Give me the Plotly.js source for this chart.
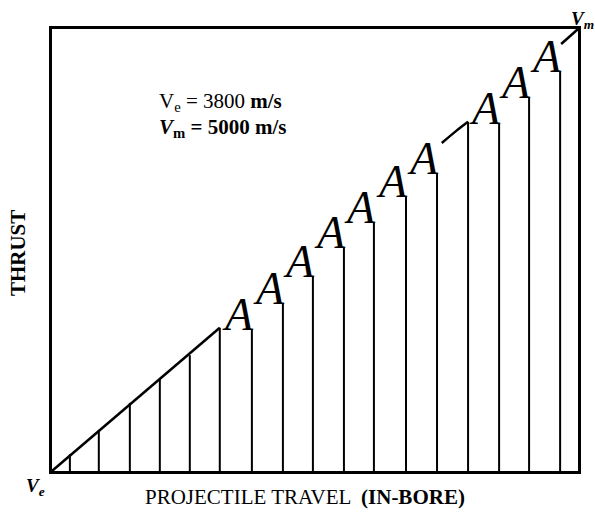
<!DOCTYPE html>
<html>
<head>
<meta charset="utf-8">
<script src="https://cdn.plot.ly/plotly-3.0.1.min.js"></script>
<style>html,body{margin:0;padding:0;background:#fff;}#chart{width:595px;height:513px;}</style>
</head>
<body>
<div id="chart"></div>
<script>
// Stations along the bore (travel, % of bore) and thrust at each station (% of max)
const stationTravel = [3.4, 8.9, 14.8, 20.5, 26.2, 31.9, 38.0, 43.9, 49.6, 55.5, 61.2, 67.3, 73.2, 79.1, 85.0, 90.7, 96.6];
const stationThrust = [3.8, 9.3, 15.4, 20.8, 26.2, 32.4, 32.1, 38.0, 44.1, 50.5, 56.3, 62.0, 67.4, 79.0, 78.7, 84.6, 90.3];
const stationMarks  = ["", "", "", "", "", "", "A", "A", "A", "A", "A", "A", "A", "", "A", "A", "A"];

// Continuous thrust envelope pieces
const rampTravel  = [0, 31.9];
const rampThrust  = [0, 32.4];
const bendTravel  = [74.1, 76.8, 79.1];
const bendThrust  = [74.2, 76.9, 79.0];
const exitTravel  = [96.8, 100];
const exitThrust  = [96.6, 100];

const labelVe = "V<sub>e</sub> = 3800 <b>m/s</b>";
const labelVm = "<b><i>V</i></b><sub><b>m</b></sub><b> = 5000 m/s</b>";
const xTitle = "PROJECTILE TRAVEL  <b>(IN-BORE)</b>";
const yTitle = "<b>THRUST</b>";

const SERIF = "Liberation Serif, Times New Roman, serif";

// vertical station lines
const vx = [], vy = [];
stationTravel.forEach((t, i) => { vx.push(t, t, null); vy.push(0, stationThrust[i], null); });

const traces = [
  {x: vx, y: vy, mode: "lines", line: {color: "#000", width: 2}, hoverinfo: "skip", showlegend: false},
  {x: rampTravel, y: rampThrust, mode: "lines", line: {color: "#000", width: 2.5}, showlegend: false},
  {x: bendTravel, y: bendThrust, mode: "lines", line: {color: "#000", width: 2.5, shape: "spline"}, showlegend: false},
  {x: exitTravel, y: exitThrust, mode: "lines", line: {color: "#000", width: 2.5}, showlegend: false, cliponaxis: false}
];

const annotations = [];
stationMarks.forEach((m, i) => {
  if (!m) return;
  annotations.push({
    x: stationTravel[i], y: stationThrust[i], xref: "x", yref: "y",
    text: "<i>" + m + "</i>", showarrow: false,
    xanchor: "center", yanchor: "middle", xshift: -14, yshift: 15,
    font: {family: SERIF, size: 46, color: "#000"}
  });
});

annotations.push(
  {x: 20.0, y: 83.5, xref: "x", yref: "y", text: labelVe, showarrow: false, xanchor: "left", yanchor: "middle",
   font: {family: SERIF, size: 21, color: "#000"}},
  {x: 20.0, y: 77.6, xref: "x", yref: "y", text: labelVm, showarrow: false, xanchor: "left", yanchor: "middle",
   font: {family: SERIF, size: 21, color: "#000"}},
  {x: -0.0646, y: 0.493, xref: "paper", yref: "paper", text: yTitle, textangle: -90, showarrow: false,
   xanchor: "center", yanchor: "middle", font: {family: SERIF, size: 21, color: "#000"}},
  {x: 0.481, y: -0.058, xref: "paper", yref: "paper", text: xTitle, showarrow: false,
   xanchor: "center", yanchor: "middle", font: {family: SERIF, size: 21, color: "#000"}},
  {x: -0.032, y: -0.036, xref: "paper", yref: "paper", text: "<b><i>V</i></b><sub><b><i>e</i></b></sub>", showarrow: false,
   xanchor: "center", yanchor: "middle", font: {family: SERIF, size: 19, color: "#000"}},
  {x: 1.009, y: 1.02, xref: "paper", yref: "paper", text: "<b><i>V</i></b><sub><b><i>m</i></b></sub>", showarrow: false,
   xanchor: "center", yanchor: "middle", font: {family: SERIF, size: 19, color: "#000"}}
);

const layout = {
  width: 595, height: 513,
  margin: {l: 52, r: 17, t: 29, b: 42, pad: 0},
  paper_bgcolor: "#fff", plot_bgcolor: "#fff",
  showlegend: false,
  xaxis: {range: [0, 100], showgrid: false, zeroline: false, showticklabels: false, ticks: "",
          showline: true, mirror: true, linecolor: "#000", linewidth: 3, fixedrange: true},
  yaxis: {range: [0, 100], showgrid: false, zeroline: false, showticklabels: false, ticks: "",
          showline: true, mirror: true, linecolor: "#000", linewidth: 3, fixedrange: true},
  annotations: annotations
};

Plotly.newPlot("chart", traces, layout, {displayModeBar: false, staticPlot: true});
</script>
</body>
</html>
